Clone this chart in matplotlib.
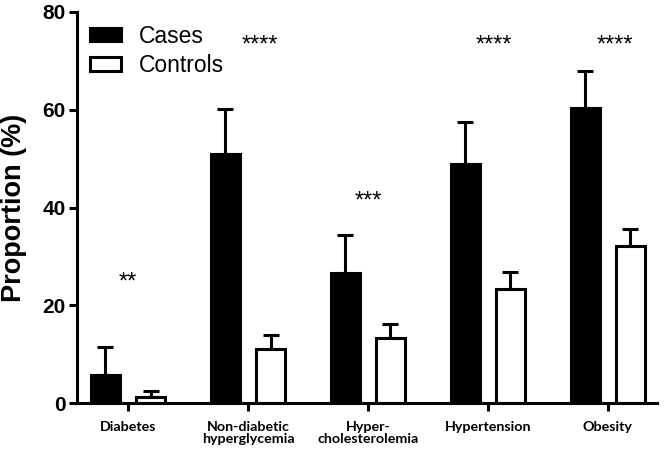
import numpy as np
import matplotlib.pyplot as plt
from matplotlib.patches import Patch

categories = ["Diabetes", "Non-diabetic\nhyperglycemia", "Hyper-\ncholesterolemia",
              "Hypertension", "Obesity"]
cases = [5.7, 51.0, 26.5, 49.0, 60.4]
cases_err = [5.7, 9.2, 7.8, 8.4, 7.6]
controls = [1.2, 11.0, 13.4, 23.3, 32.1]
controls_err = [1.3, 2.9, 2.8, 3.5, 3.6]
stars = ["**", "****", "***", "****", "****"]
star_y = [24.6, 73.2, 41.2, 73.2, 73.2]
star_dx = [0.0, 0.1, 0.0, 0.05, 0.06]

plt.rcParams['font.family'] = ['Liberation Sans', 'DejaVu Sans']

fig = plt.figure(figsize=(6.64, 4.51), dpi=100)
ax = fig.add_axes([0.116, 0.1064, 0.8735, 0.867])

x = np.arange(len(categories))
w = 0.245
off = 0.188
lw = 2.2

ax.bar(x - off, cases, w, color='black', edgecolor='black', linewidth=lw,
       yerr=[np.zeros(5), cases_err], error_kw=dict(ecolor='black', elinewidth=lw,
                                                     capsize=6, capthick=lw), zorder=3)
ax.bar(x + off, controls, w, color='white', edgecolor='black', linewidth=lw,
       yerr=[np.zeros(5), controls_err], error_kw=dict(ecolor='black', elinewidth=lw,
                                                        capsize=6, capthick=lw), zorder=2)

for i in range(len(categories)):
    ax.text(x[i] + star_dx[i], star_y[i], stars[i], ha='center', va='center',
            fontsize=17)

ax.set_xlim(-0.425, 4.41)
ax.set_ylim(0, 80)
ax.set_yticks([0, 20, 40, 60, 80])
ax.set_xticks(x)
ax.set_xticklabels(categories, fontsize=10.3, fontweight='bold', family=['Lato', 'DejaVu Sans'],
                   linespacing=1.0)
for lab in ax.get_yticklabels():
    lab.set_fontsize(15)
    lab.set_fontweight('bold')
ax.set_ylabel("Proportion (%)", fontsize=19.5, fontweight='bold')
ax.yaxis.set_label_coords(-0.086, 0.5)

for s in ['top', 'right']:
    ax.spines[s].set_visible(False)
for s in ['left', 'bottom']:
    ax.spines[s].set_linewidth(2.2)
ax.tick_params(axis='y', width=2.2, length=6, pad=2)
ax.tick_params(axis='x', width=2.2, length=6, pad=7)

handles = [Patch(facecolor='black', edgecolor='black', linewidth=lw),
           Patch(facecolor='white', edgecolor='black', linewidth=lw)]
ax.legend(handles, ["Cases", "Controls"], loc='upper left', bbox_to_anchor=(0.0, 1.0),
          frameon=False, fontsize=16.5, handlelength=1.35, handleheight=0.55,
          handletextpad=0.8, labelspacing=0.3, borderaxespad=0.15)

fig.savefig("out.png", dpi=100)
